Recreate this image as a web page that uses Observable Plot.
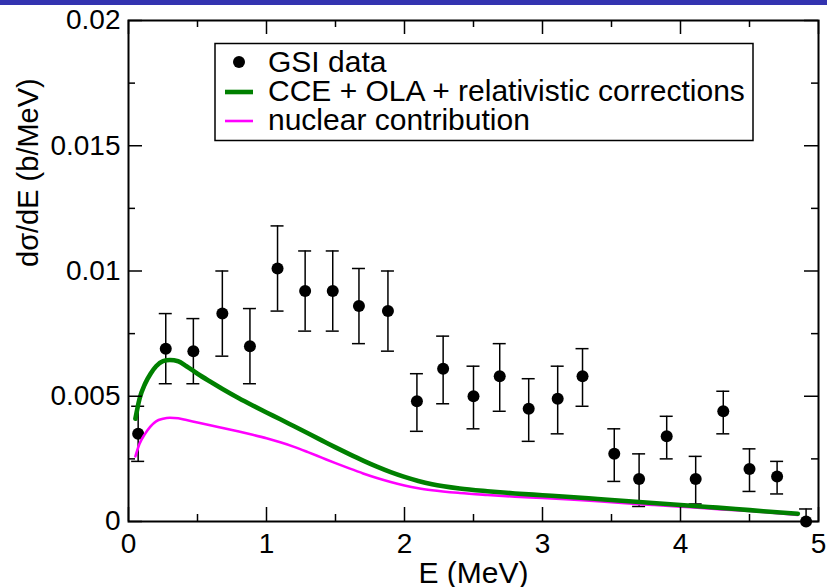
<!DOCTYPE html>
<html><head><meta charset="utf-8">
<script src="https://cdn.jsdelivr.net/npm/d3@7"></script>
<script src="https://cdn.jsdelivr.net/npm/@observablehq/plot@0.6"></script>
<style>
body{margin:0;background:#fff;}
#wrap{position:relative;width:827px;height:587px;overflow:hidden;}
#bar{position:absolute;left:0;top:0;width:827px;height:5px;background:#3333b0;}
</style></head><body>
<div id="wrap"><div id="chart"></div><div id="bar"></div></div>
<script>
// GSI data points
const energy = [0.07, 0.27, 0.47, 0.68, 0.88, 1.08, 1.28, 1.48, 1.67, 1.88, 2.09, 2.28, 2.50, 2.69, 2.90, 3.11, 3.29, 3.52, 3.70, 3.90, 4.11, 4.31, 4.50, 4.70, 4.91];
const sigma  = [0.0035, 0.0069, 0.0068, 0.0083, 0.0070, 0.0101, 0.0092, 0.0092, 0.0086, 0.0084, 0.0048, 0.0061, 0.0050, 0.0058, 0.0045, 0.0049, 0.0058, 0.0027, 0.0017, 0.0034, 0.0017, 0.0044, 0.0021, 0.0018, 0.0000];
const errHigh = [0.0046, 0.0083, 0.0081, 0.0100, 0.0085, 0.0118, 0.0108, 0.0108, 0.0101, 0.0100, 0.0059, 0.0074, 0.0062, 0.0071, 0.0057, 0.0062, 0.0069, 0.0037, 0.0027, 0.0042, 0.0026, 0.0052, 0.0029, 0.0024, 0.0005];
const errLow  = [0.0024, 0.0055, 0.0055, 0.0066, 0.0055, 0.0084, 0.0076, 0.0076, 0.0071, 0.0068, 0.0036, 0.0047, 0.0037, 0.0044, 0.0032, 0.0035, 0.0046, 0.0016, 0.0006, 0.0025, 0.0007, 0.0035, 0.0012, 0.0011, -0.0005];

// theory curves
const curveE     = [0.05, 0.08, 0.12, 0.16, 0.2, 0.25, 0.3, 0.36, 0.42, 0.5, 0.6, 0.7, 0.8, 0.9, 1.0, 1.1, 1.2, 1.3, 1.4, 1.5, 1.6, 1.7, 1.8, 1.9, 2.0, 2.1, 2.2, 2.4, 2.6, 2.8, 3.0, 3.2, 3.4, 3.6, 3.8, 4.0, 4.2, 4.4, 4.6, 4.85];
const ccePlusOla = [0.0041, 0.0049, 0.0055, 0.0059, 0.0062, 0.0064, 0.00645, 0.0064, 0.0062, 0.0059, 0.00556, 0.00523, 0.00492, 0.00463, 0.00435, 0.00408, 0.0038, 0.00352, 0.00324, 0.00296, 0.00269, 0.00243, 0.00219, 0.00197, 0.00178, 0.00162, 0.00149, 0.00132, 0.00121, 0.00112, 0.00105, 0.00098, 0.0009, 0.00082, 0.00074, 0.00066, 0.00058, 0.0005, 0.00041, 0.00031];
const nuclear    = [0.0026, 0.0031, 0.0035, 0.0038, 0.0040, 0.0041, 0.00414, 0.00412, 0.00405, 0.00395, 0.00383, 0.00371, 0.00359, 0.00346, 0.00332, 0.00316, 0.00298, 0.00277, 0.00255, 0.00233, 0.00212, 0.00192, 0.00174, 0.00158, 0.00144, 0.00133, 0.00125, 0.00114, 0.00106, 0.00099, 0.00094, 0.00088, 0.00081, 0.00073, 0.00066, 0.00059, 0.00052, 0.00045, 0.00038, 0.00026];

// ticks
const xMajor = [0, 1, 2, 3, 4, 5];
const xMinor = [0.5, 1.5, 2.5, 3.5, 4.5];
const yMajor = [0, 0.005, 0.01, 0.015, 0.02];
const yMinor = [0.0025, 0.0075, 0.0125, 0.0175];
const xTickLabels = ["0", "1", "2", "3", "4", "5"];
const yTickLabels = ["0", "0.005", "0.01", "0.015", "0.02"];
const xTitle = "E (MeV)";
const yTitle = "dσ/dE (b/MeV)";
const legendLabels = ["GSI data", "CCE + OLA + relativistic corrections", "nuclear contribution"];
const colors = {data: "black", cce: "#008000", nuc: "#ff00ff"};

const points = energy.map((e, i) => ({e, s: sigma[i], lo: errLow[i], hi: errHigh[i]}));
const curves = curveE.map((e, i) => ({e, cce: ccePlusOla[i], nuc: nuclear[i]}));

const W = 827, H = 587, mL = 128, mR = 9, mT = 20, mB = 66;
const FW = W - mL - mR, FH = H - mT - mB;
const font = "'Liberation Sans', Arial, Helvetica, sans-serif";
const big = 14, small = 7;

const chart = Plot.plot({
  width: W, height: H,
  marginLeft: mL, marginRight: mR, marginTop: mT, marginBottom: mB,
  x: {domain: [0, 5]},
  y: {domain: [0, 0.02]},
  style: {fontFamily: font, fontSize: "28px", color: "black", background: "white"},
  marks: [
    // error bars
    Plot.ruleX(points, {x: "e", y1: "lo", y2: "hi", stroke: "black", strokeWidth: 1.5, clip: true}),
    Plot.ruleY(points, {y: "hi", x1: "e", x2: "e", insetLeft: -6.5, insetRight: -6.5, stroke: "black", strokeWidth: 1.5, clip: true}),
    Plot.ruleY(points, {y: "lo", x1: "e", x2: "e", insetLeft: -6.5, insetRight: -6.5, stroke: "black", strokeWidth: 1.5, clip: true}),
    Plot.dot(points, {x: "e", y: "s", r: 6, fill: colors.data}),
    // curves
    Plot.line(curves, {x: "e", y: "nuc", stroke: colors.nuc, strokeWidth: 2.6, curve: "monotone-x"}),
    Plot.line(curves, {x: "e", y: "cce", stroke: colors.cce, strokeWidth: 4.6, curve: "monotone-x"}),
    // inward ticks on all four sides
    Plot.tickX(xMajor, {x: d => d, insetTop: FH - big, stroke: "black", strokeWidth: 1.5}),
    Plot.tickX(xMajor, {x: d => d, insetBottom: FH - big, stroke: "black", strokeWidth: 1.5}),
    Plot.tickX(xMinor, {x: d => d, insetTop: FH - small, stroke: "black", strokeWidth: 1.5}),
    Plot.tickX(xMinor, {x: d => d, insetBottom: FH - small, stroke: "black", strokeWidth: 1.5}),
    Plot.tickY(yMajor, {y: d => d, insetRight: FW - big, stroke: "black", strokeWidth: 1.5}),
    Plot.tickY(yMajor, {y: d => d, insetLeft: FW - big, stroke: "black", strokeWidth: 1.5}),
    Plot.tickY(yMinor, {y: d => d, insetRight: FW - small, stroke: "black", strokeWidth: 1.5}),
    Plot.tickY(yMinor, {y: d => d, insetLeft: FW - small, stroke: "black", strokeWidth: 1.5}),
    Plot.frame({stroke: "black", strokeWidth: 2}),
    // tick labels
    Plot.axisX(xMajor, {tickSize: 0, tickPadding: 12, tickFormat: d => xTickLabels[xMajor.indexOf(d)], fontSize: 28, label: null}),
    Plot.axisY(yMajor, {tickSize: 0, tickPadding: 8, tickFormat: d => yTickLabels[yMajor.indexOf(d)], fontSize: 28, label: null}),
    // axis titles
    Plot.text([xTitle], {frameAnchor: "bottom", text: d => d, lineAnchor: "bottom", dy: 61, fontSize: 30}),
    Plot.text([yTitle], {frameAnchor: "left", text: d => d, rotate: -90, lineAnchor: "bottom", dx: -91, dy: -4, fontSize: 29})
  ]
});
document.getElementById("chart").appendChild(chart);

// legend box inside the plot area
const svg = d3.select(chart);
const lg = svg.append("g").attr("font-family", font).attr("font-size", 30).attr("fill", "black").attr("text-anchor", "start");
lg.append("rect").attr("x", 215).attr("y", 43.5).attr("width", 538).attr("height", 97)
  .attr("fill", "white").attr("stroke", "black").attr("stroke-width", 1.5);
lg.append("circle").attr("cx", 239).attr("cy", 62).attr("r", 6).attr("fill", colors.data);
lg.append("line").attr("x1", 225).attr("x2", 253).attr("y1", 92).attr("y2", 92).attr("stroke", colors.cce).attr("stroke-width", 4.6);
lg.append("line").attr("x1", 225).attr("x2", 253).attr("y1", 121).attr("y2", 121).attr("stroke", colors.nuc).attr("stroke-width", 2.6);
legendLabels.forEach((t, i) => {
  lg.append("text").attr("x", 268).attr("y", 72 + i * 29).attr("text-anchor", "start").text(t);
});
</script>
</body></html>
